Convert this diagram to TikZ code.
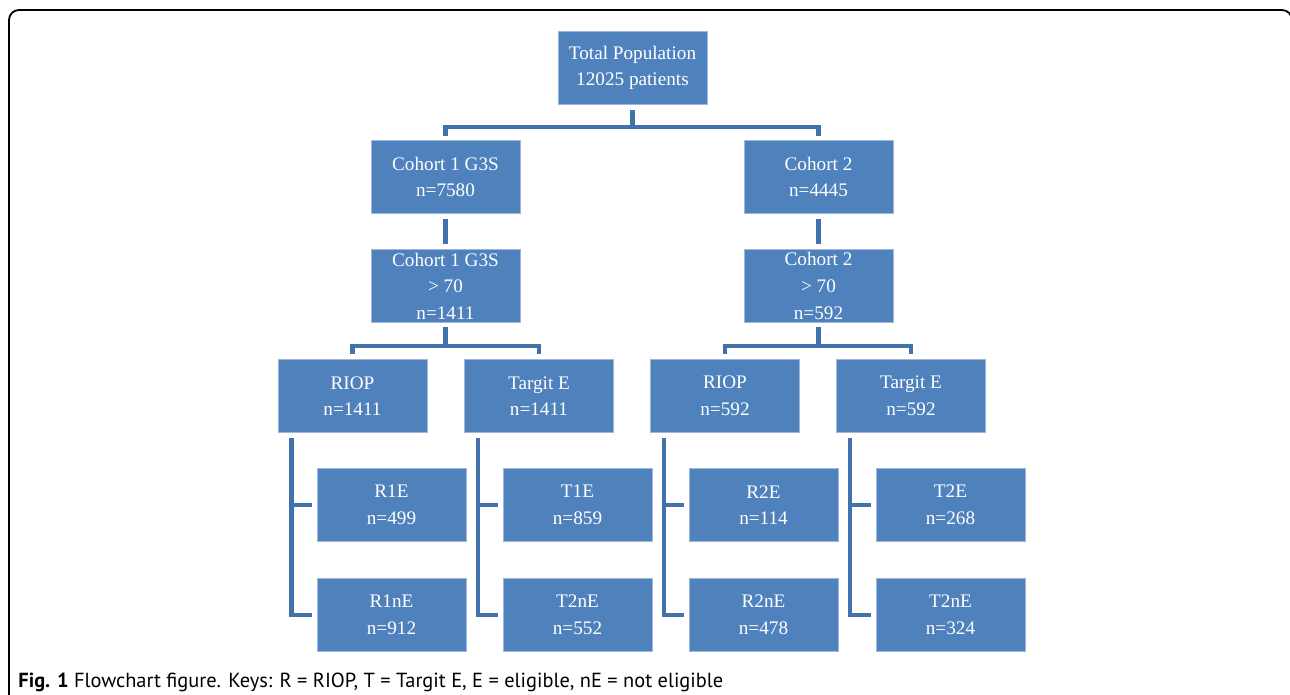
\documentclass[tikz,border=0pt]{standalone}
\usepackage{fontspec}
\setmainfont{Liberation Serif}
\newfontfamily\capfont{PT Sans}
\usetikzlibrary{positioning}
\definecolor{boxfill}{HTML}{4F81BD}
\definecolor{boxedge}{HTML}{9DB8DA}
\definecolor{connc}{HTML}{4272AB}
\tikzset{
  bx/.style={draw=boxedge, line width=0.4pt, fill=boxfill, text=white,
    minimum width=74.5pt, minimum height=36.5pt, inner sep=0pt, align=center,
    font=\fontsize{9.6pt}{13.3pt}\selectfont},
  conn/.style={draw=connc, line width=2.3pt, line join=miter, line cap=butt},
}
\begin{document}
\begin{tikzpicture}[x=0.5pt,y=-0.5pt]
\useasboundingbox (0,0) rectangle (1290,695);
\fill[white] (0,0) rectangle (1290,695);
% frame
\draw[line width=0.9pt, rounded corners=5pt] (9,700) -- (9,10) -- (1292,10) -- (1292,700);
% nodes
\node[bx] (tot) at (632.5,68) {Total Population\\12025 patients};
\node[bx] (c1) at (445.5,177) {Cohort 1 G3S\\n=7580};
\node[bx] (c2) at (818.5,177) {Cohort 2\\n=4445};
\node[bx] (c1o) at (445.5,286) {Cohort 1 G3S\\{> 70}\\n=1411};
\node[bx] (c2o) at (818.5,286) {Cohort 2\\{> 70}\\n=592};
\node[bx] (riop1) at (352.5,396) {RIOP\\n=1411};
\node[bx] (targ1) at (539,396) {Targit E\\n=1411};
\node[bx] (riop2) at (725,396) {RIOP\\n=592};
\node[bx] (targ2) at (911,396) {Targit E\\n=592};
\node[bx] (r1e) at (391.5,505) {R1E\\n=499};
\node[bx] (r1ne) at (391.5,615) {R1nE\\n=912};
\node[bx] (t1e) at (577.5,505) {T1E\\n=859};
\node[bx] (t1ne) at (577.5,615) {T2nE\\n=552};
\node[bx] (r2e) at (763.5,505) {R2E\\n=114};
\node[bx] (r2ne) at (763.5,615) {R2nE\\n=478};
\node[bx] (t2e) at (950.5,505) {T2E\\n=268};
\node[bx] (t2ne) at (950.5,615) {T2nE\\n=324};
% connectors
\draw[conn] ([yshift=-2.5pt]tot.south) -- ++(0,17) -| ([yshift=2pt]c1.north);
\draw[conn] ([yshift=-2.5pt]tot.south) ++(0,17) -| ([yshift=2pt]c2.north);
\draw[conn] ([yshift=-2.5pt]c1.south) -- ([yshift=2.5pt]c1o.north);
\draw[conn] ([yshift=-2.5pt]c2.south) -- ([yshift=2.5pt]c2o.north);
\draw[conn] ([yshift=-2pt]c1o.south) -- ++(0,19) -| ([yshift=2.5pt]riop1.north);
\draw[conn] ([yshift=-2pt]c1o.south) ++(0,19) -| ([yshift=2.5pt]targ1.north);
\draw[conn] ([yshift=-2pt]c2o.south) -- ++(0,19) -| ([yshift=2.5pt]riop2.north);
\draw[conn] ([yshift=-2pt]c2o.south) ++(0,19) -| ([yshift=2.5pt]targ2.north);
\foreach \p/\a/\b in {riop1/r1e/r1ne, targ1/t1e/t1ne, riop2/r2e/r2ne, targ2/t2e/t2ne}{
  \draw[conn] ([xshift=7pt,yshift=-2.5pt]\p.south west) |- ([xshift=-2.5pt]\b.west);
  \draw[conn] ([xshift=7pt,yshift=-2.5pt]\p.south west) |- ([xshift=-2.5pt]\a.west);
}
% caption
\node[anchor=base west, inner sep=0pt, font=\capfont\fontsize{10.2pt}{12pt}\selectfont] (cap) at (18,687)
  {\textbf{Fig. 1} Flowchart figure. Keys: R = RIOP, T = Targit E, E = eligible, nE = not eligible};
\end{tikzpicture}
\end{document}
